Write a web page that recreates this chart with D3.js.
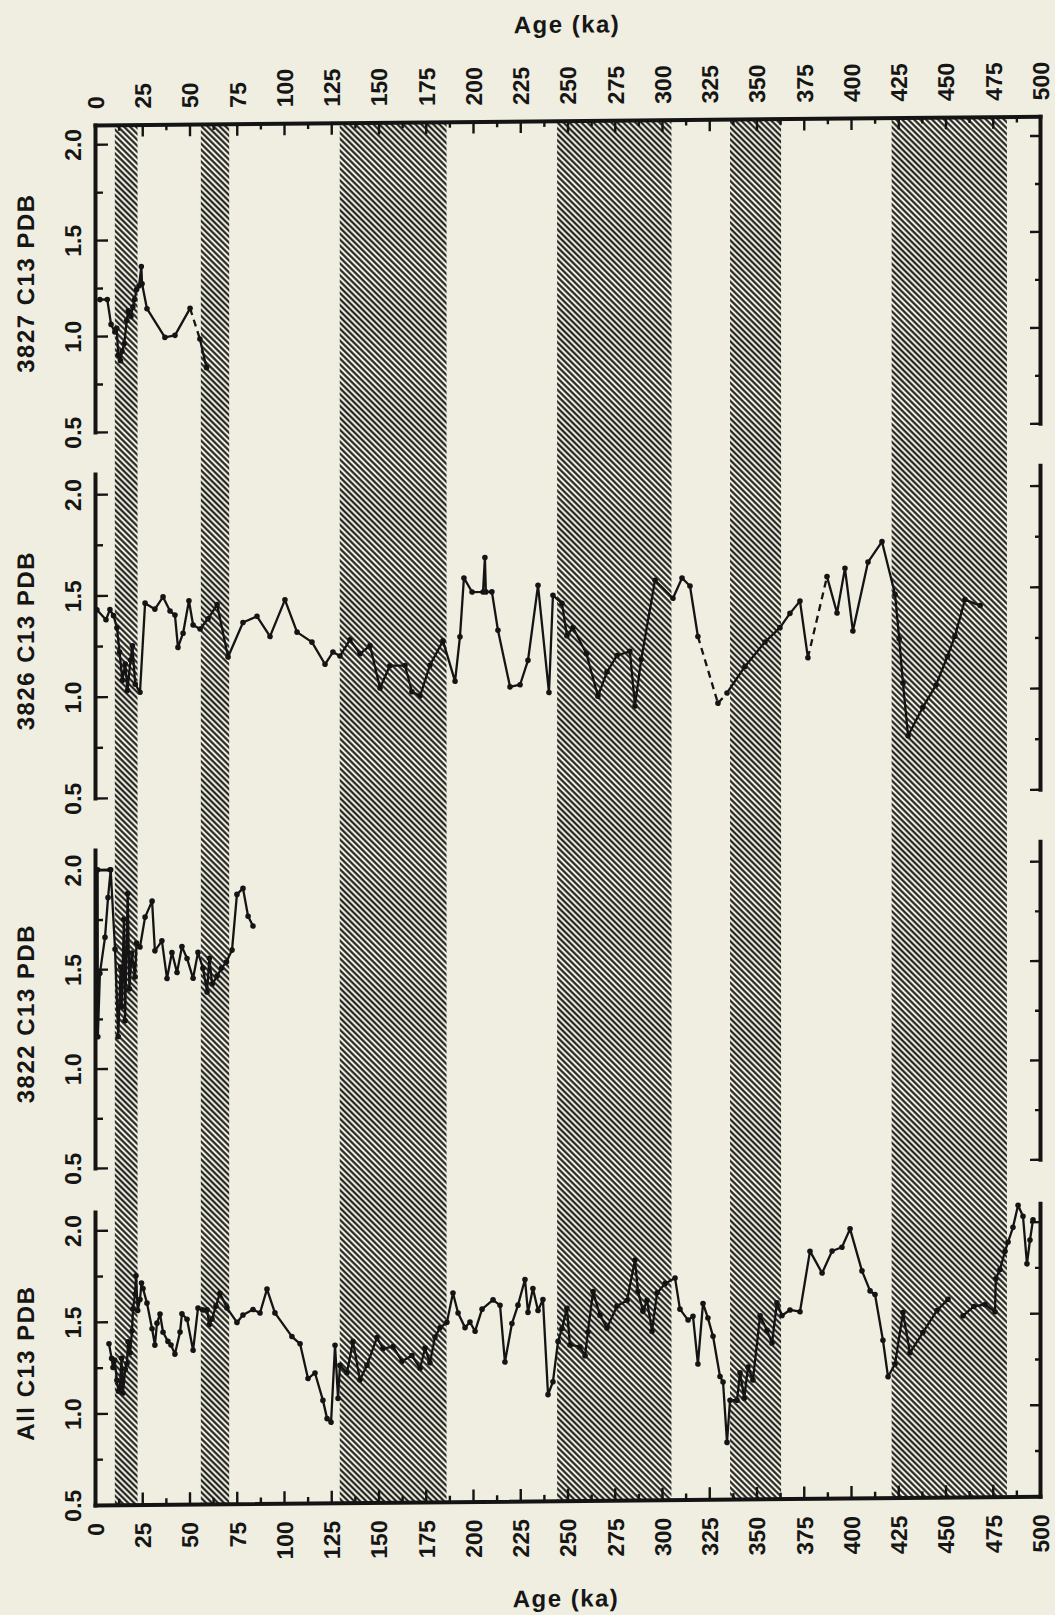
<!DOCTYPE html>
<html>
<head>
<meta charset="utf-8">
<script src="https://cdn.jsdelivr.net/npm/d3@7"></script>
<style>
  html, body { margin: 0; padding: 0; background: #f0eee0; }
  svg { display: block; }
  text { font-family: "Liberation Sans", Arial, sans-serif; font-weight: bold; fill: #161616; font-size: 23px; }
  .title { font-size: 24px; letter-spacing: 1.5px; }
</style>
</head>
<body>
<svg id="chart" width="1055" height="1615"></svg>
<script>
// ---- axis ticks ----
const ageTicks = [0, 25, 50, 75, 100, 125, 150, 175, 200, 225, 250, 275, 300, 325, 350, 375, 400, 425, 450, 475, 500];
const c13Ticks = [0.5, 1.0, 1.5, 2.0];
const c13MinorTicks = [0.75, 1.25, 1.75];

// ---- glacial stages (hatched), ka ----
const glacialBands = [[10.5, 22.5], [56, 71], [129.5, 186], [244.5, 305], [336, 363], [421.5, 482.5]];

const panelNames = ["3827 C13 PDB", "3826 C13 PDB", "3822 C13 PDB", "All C13 PDB"];

// ---- core 3827: [age ka, d13C] ----
const core3827 = [
  [2.6, 1.19], [6.5, 1.19], [8.5, 1.06], [10.5, 1.02], [11.5, 1.04], [12.3, 0.90], [13.5, 0.87],
  [14.3, 0.92], [15.5, 0.96], [16.8, 1.08], [17.6, 1.13], [19.0, 1.10], [20.0, 1.15], [21.0, 1.19],
  [22.0, 1.24], [23.3, 1.26], [24.5, 1.36], [24.9, 1.27], [27.5, 1.14], [37.0, 0.99], [42.3, 1.00],
  [50.3, 1.14], [55.5, 0.98], [59.0, 0.83]
];
const core3827Dashed = [50.3];

// ---- core 3826 ----
const core3826 = [
  [1.0, 1.43], [5.8, 1.38], [7.9, 1.43], [9.8, 1.40], [11.6, 1.34], [13.0, 1.22], [14.5, 1.08],
  [16.0, 1.16], [17.2, 1.03], [18.8, 1.18], [19.8, 1.25], [21.3, 1.06], [23.8, 1.02], [26.5, 1.46],
  [31.7, 1.43], [36.0, 1.49], [39.7, 1.42], [42.3, 1.40], [43.9, 1.24], [46.6, 1.31], [49.7, 1.47],
  [51.9, 1.35], [55.6, 1.33], [59.8, 1.38], [64.6, 1.45], [70.4, 1.19], [78.3, 1.36], [85.7, 1.39],
  [92.6, 1.29], [100.5, 1.47], [106.9, 1.31], [114.8, 1.26], [121.7, 1.15], [125.9, 1.21],
  [129.6, 1.19], [134.9, 1.27], [140.2, 1.20], [145.5, 1.24], [150.8, 1.03], [156.0, 1.14],
  [164.0, 1.14], [167.7, 1.01], [172.0, 0.99], [177.2, 1.14], [184.1, 1.26], [190.5, 1.06],
  [193.1, 1.28], [195.2, 1.57], [199.5, 1.50], [205.3, 1.50], [206.3, 1.67], [206.8, 1.50],
  [210.0, 1.50], [213.2, 1.31], [219.6, 1.03], [224.9, 1.04], [229.1, 1.16], [234.4, 1.53],
  [240.2, 1.00], [242.3, 1.48], [247.1, 1.44], [249.7, 1.28], [252.9, 1.32], [260.0, 1.19],
  [266.1, 0.98], [270.9, 1.10], [276.2, 1.18], [283.0, 1.20], [285.7, 0.93], [289.0, 1.16],
  [296.3, 1.55], [305.8, 1.46], [310.6, 1.56], [314.8, 1.52], [319.0, 1.27], [329.6, 0.94],
  [334.4, 0.99], [343.9, 1.12], [354.5, 1.24], [362.4, 1.31], [367.7, 1.38], [373.0, 1.44],
  [377.2, 1.16], [387.3, 1.56], [392.6, 1.38], [396.8, 1.60], [401.0, 1.29], [409.0, 1.63],
  [416.4, 1.73], [423.3, 1.47], [425.5, 1.25], [427.5, 1.03], [430.2, 0.77], [438.0, 0.91],
  [445.0, 1.02], [451.0, 1.16], [455.0, 1.26], [460.3, 1.44], [468.3, 1.41]
];
const core3826Dashed = [319.0, 329.6, 377.2];

// ---- core 3822 ----
const core3822 = [
  [8.0, 2.00], [1.4, 2.00], [1.5, 1.16], [2.6, 1.48], [5.3, 1.66], [6.9, 1.86], [8.3, 2.00],
  [10.6, 1.60], [12.3, 1.16], [13.6, 1.51], [14.1, 1.31], [15.3, 1.75], [15.9, 1.24], [17.3, 1.88],
  [18.2, 1.40], [19.4, 1.58], [21.2, 1.46], [22.0, 1.63], [23.8, 1.61], [26.5, 1.76], [30.2, 1.84],
  [31.7, 1.59], [35.4, 1.64], [38.1, 1.45], [40.7, 1.58], [43.4, 1.48], [46.0, 1.61], [48.7, 1.55],
  [51.9, 1.45], [54.5, 1.58], [57.1, 1.50], [59.3, 1.38], [60.5, 1.55], [62.0, 1.42], [64.6, 1.46],
  [67.0, 1.50], [69.5, 1.53], [72.5, 1.59], [75.1, 1.87], [78.3, 1.90], [81.0, 1.76], [83.6, 1.71]
];

// ---- all cores combined ----
const stackAll = [
  [7.4, 1.38], [8.8, 1.30], [9.5, 1.25], [10.4, 1.29], [11.6, 1.18], [12.4, 1.12], [13.2, 1.14],
  [14.0, 1.30], [14.8, 1.11], [16.0, 1.24], [16.9, 1.27], [17.5, 1.39], [18.6, 1.33], [19.6, 1.45],
  [20.1, 1.57], [21.2, 1.65], [21.7, 1.75], [22.6, 1.56], [23.8, 1.62], [24.6, 1.71], [25.4, 1.68],
  [27.5, 1.60], [30.2, 1.46], [31.7, 1.37], [32.8, 1.49], [34.4, 1.54], [36.0, 1.44], [38.6, 1.39],
  [40.2, 1.37], [42.3, 1.32], [45.0, 1.44], [46.0, 1.54], [48.7, 1.51], [51.9, 1.34], [54.5, 1.57],
  [57.0, 1.56], [59.3, 1.56], [60.5, 1.48], [61.9, 1.51], [64.0, 1.58], [66.1, 1.65], [69.8, 1.57],
  [75.1, 1.49], [78.3, 1.53], [83.6, 1.56], [87.3, 1.54], [91.0, 1.67], [95.2, 1.54], [104.2, 1.41],
  [108.5, 1.37], [112.7, 1.18], [116.4, 1.21], [120.6, 1.06], [122.8, 0.96], [124.9, 0.94],
  [127.0, 1.36], [128.6, 1.07], [129.6, 1.25], [133.3, 1.21], [136.5, 1.38], [140.2, 1.17],
  [143.9, 1.25], [149.2, 1.40], [152.4, 1.34], [157.7, 1.35], [162.4, 1.27], [167.7, 1.30],
  [172.0, 1.23], [174.6, 1.34], [177.2, 1.26], [179.9, 1.40], [182.5, 1.45], [186.2, 1.48],
  [189.4, 1.64], [192.1, 1.53], [195.8, 1.45], [198.4, 1.48], [201.1, 1.43], [204.8, 1.55],
  [210.6, 1.60], [214.3, 1.57], [216.9, 1.26], [220.6, 1.47], [223.8, 1.57], [227.5, 1.71],
  [229.1, 1.53], [231.7, 1.66], [234.4, 1.54], [237.0, 1.60], [239.7, 1.08], [242.3, 1.15],
  [245.0, 1.37], [247.1, 1.44], [249.7, 1.55], [251.3, 1.35], [256.6, 1.34], [259.3, 1.29],
  [260.8, 1.42], [263.5, 1.64], [267.2, 1.51], [270.9, 1.44], [276.2, 1.56], [281.5, 1.59],
  [285.7, 1.81], [287.3, 1.64], [289.9, 1.53], [292.1, 1.59], [294.7, 1.42], [297.4, 1.63],
  [301.6, 1.68], [306.9, 1.71], [309.5, 1.54], [313.8, 1.48], [316.4, 1.50], [319.0, 1.24],
  [321.7, 1.57], [324.3, 1.49], [327.0, 1.39], [330.7, 1.17], [332.3, 1.14], [334.4, 0.81],
  [336.0, 1.04], [339.7, 1.04], [341.3, 1.19], [343.5, 1.05], [345.5, 1.22], [348.1, 1.15],
  [351.9, 1.50], [355.6, 1.42], [358.2, 1.35], [360.8, 1.57], [363.5, 1.50], [367.7, 1.53],
  [373.0, 1.52], [378.3, 1.85], [384.7, 1.73], [390.0, 1.85], [395.2, 1.87], [399.5, 1.97],
  [405.8, 1.74], [410.1, 1.63], [412.7, 1.61], [416.9, 1.36], [419.6, 1.16], [423.3, 1.23],
  [427.5, 1.51], [431.2, 1.29], [438.0, 1.40], [445.5, 1.52], [451.3, 1.58], [459.3, 1.49],
  [465.0, 1.54], [470.9, 1.55], [476.2, 1.51], [476.6, 1.69], [478.8, 1.74], [481.5, 1.84],
  [483.1, 1.89], [485.7, 1.97], [488.4, 2.09], [491.0, 2.03], [493.1, 1.77], [494.7, 1.90],
  [496.3, 2.01]
];
const stackAllGaps = [451.3];

// ---- layout ----
const W = 1055, H = 1615;
const INK = "#141414";
const PAPER = "#f0eee0";
const plotTop = 125, plotBottom = 1505;
const panels = [
  { name: panelNames[0], top: 125, bottom: 432, data: core3827, dashed: core3827Dashed, gaps: [] },
  { name: panelNames[1], top: 474, bottom: 798, data: core3826, dashed: core3826Dashed, gaps: [] },
  { name: panelNames[2], top: 850, bottom: 1168, data: core3822, dashed: [], gaps: [] },
  { name: panelNames[3], top: 1212, bottom: 1505, data: stackAll, dashed: [], gaps: stackAllGaps }
];

const svg = d3.select("#chart");
svg.append("rect").attr("width", W).attr("height", H).attr("fill", PAPER);

// diagonal hatch for the glacial stages
const HATCH = 4.2;
const defs = svg.append("defs");
const pat = defs.append("pattern")
  .attr("id", "hatch")
  .attr("patternUnits", "userSpaceOnUse")
  .attr("width", HATCH).attr("height", HATCH)
  .attr("patternTransform", "rotate(45)");
pat.append("rect").attr("width", HATCH).attr("height", HATCH).attr("fill", PAPER);
pat.append("line")
  .attr("x1", 0).attr("y1", HATCH / 2).attr("x2", HATCH).attr("y2", HATCH / 2)
  .attr("stroke", INK).attr("stroke-width", 2.0);

// the whole plate sits with a slight tilt
const plate = svg.append("g").attr("transform", "translate(0,0.9) skewY(-0.53)");

const x = d3.scaleLinear().domain([0, 500]).range([95, 1040]);

// hatched bands spanning all four panels
plate.append("g").selectAll("rect")
  .data(glacialBands)
  .join("rect")
  .attr("x", d => x(d[0]))
  .attr("width", d => x(d[1]) - x(d[0]))
  .attr("y", plotTop)
  .attr("height", plotBottom - plotTop)
  .attr("fill", "url(#hatch)");

function styleAxis(g, domainWidth) {
  g.select(".domain").attr("stroke", INK).attr("stroke-width", domainWidth).attr("stroke-linecap", "square");
  g.selectAll(".tick line").attr("stroke", INK).attr("stroke-width", 2.4);
}

const ageMinor = ageTicks.slice(0, -1).map(t => t + 12.5);

// top age axis
const gTop = plate.append("g").attr("transform", `translate(0,${plotTop})`)
  .call(d3.axisTop(x).tickValues(ageTicks).tickSize(-12).tickSizeOuter(0).tickPadding(0).tickFormat(d3.format("d")));
styleAxis(gTop, 4);
gTop.selectAll(".tick text")
  .attr("transform", "rotate(-90)").attr("x", 16).attr("y", 0).attr("dy", "0.36em")
  .attr("text-anchor", "start");
const gTopMinor = plate.append("g").attr("transform", `translate(0,${plotTop})`)
  .call(d3.axisTop(x).tickValues(ageMinor).tickSize(-6).tickFormat(""));
gTopMinor.select(".domain").remove();
styleAxis(gTopMinor, 0);

// bottom age axis
const gBot = plate.append("g").attr("transform", `translate(0,${plotBottom})`)
  .call(d3.axisBottom(x).tickValues(ageTicks).tickSize(-12).tickSizeOuter(0).tickPadding(0).tickFormat(d3.format("d")));
styleAxis(gBot, 4);
gBot.selectAll(".tick text")
  .attr("transform", "rotate(-90)").attr("x", -18).attr("y", 0).attr("dy", "0.36em")
  .attr("text-anchor", "end");
const gBotMinor = plate.append("g").attr("transform", `translate(0,${plotBottom})`)
  .call(d3.axisBottom(x).tickValues(ageMinor).tickSize(-6).tickFormat(""));
gBotMinor.select(".domain").remove();
styleAxis(gBotMinor, 0);

// axis titles
plate.append("text").attr("class", "title").attr("x", 567).attr("y", 37).attr("text-anchor", "middle").text("Age (ka)");
plate.append("text").attr("class", "title").attr("x", 566).attr("y", 1611).attr("text-anchor", "middle").text("Age (ka)");

// the four d13C panels
panels.forEach(p => {
  const y = d3.scaleLinear().domain([0.5, 2.1]).range([p.bottom, p.top]);
  const g = plate.append("g");

  // left axis with labels
  const gl = g.append("g").attr("transform", `translate(${x(0)},0)`)
    .call(d3.axisLeft(y).tickValues(c13Ticks).tickSize(-13).tickSizeOuter(0).tickPadding(0).tickFormat(d3.format(".1f")));
  styleAxis(gl, 4);
  gl.selectAll(".tick text")
    .attr("transform", "rotate(-90)").attr("x", 0).attr("y", -14).attr("dy", 0)
    .attr("text-anchor", "middle");
  const glm = g.append("g").attr("transform", `translate(${x(0)},0)`)
    .call(d3.axisLeft(y).tickValues(c13MinorTicks).tickSize(-8).tickFormat(""));
  glm.select(".domain").remove();
  styleAxis(glm, 0);

  // right axis, ticks only
  const gr = g.append("g").attr("transform", `translate(${x(500)},0)`)
    .call(d3.axisRight(y).tickValues(c13Ticks).tickSize(-10).tickSizeOuter(0).tickFormat(""));
  styleAxis(gr, 4);
  const grm = g.append("g").attr("transform", `translate(${x(500)},0)`)
    .call(d3.axisRight(y).tickValues(c13MinorTicks).tickSize(-5).tickFormat(""));
  grm.select(".domain").remove();
  styleAxis(grm, 0);

  // panel title
  g.append("text").attr("class", "title")
    .attr("transform", `translate(34,${(p.top + p.bottom) / 2 + 4}) rotate(-90)`)
    .attr("text-anchor", "middle")
    .text(p.name);

  // data: solid runs, dashed links and gaps
  const line = d3.line().x(d => x(d[0])).y(d => y(d[1]));
  const runs = [];
  const dashes = [];
  let run = [p.data[0]];
  d3.pairs(p.data).forEach(([a, b]) => {
    const gap = p.gaps.includes(a[0]);
    const dash = p.dashed.includes(a[0]);
    if (gap || dash) {
      if (run.length > 1) runs.push(run);
      if (dash) dashes.push([a, b]);
      run = [b];
    } else {
      run.push(b);
    }
  });
  if (run.length > 1) runs.push(run);

  g.append("g").selectAll("path")
    .data(runs)
    .join("path")
    .attr("d", line)
    .attr("fill", "none").attr("stroke", INK).attr("stroke-width", 2.3)
    .attr("stroke-linejoin", "round").attr("stroke-linecap", "round");

  g.append("g").selectAll("path")
    .data(dashes)
    .join("path")
    .attr("d", line)
    .attr("fill", "none").attr("stroke", INK).attr("stroke-width", 2.3)
    .attr("stroke-dasharray", "7,5");

  g.append("g").selectAll("circle")
    .data(p.data)
    .join("circle")
    .attr("cx", d => x(d[0]))
    .attr("cy", d => y(d[1]))
    .attr("r", 2.8)
    .attr("fill", INK);
});
</script>
</body>
</html>
